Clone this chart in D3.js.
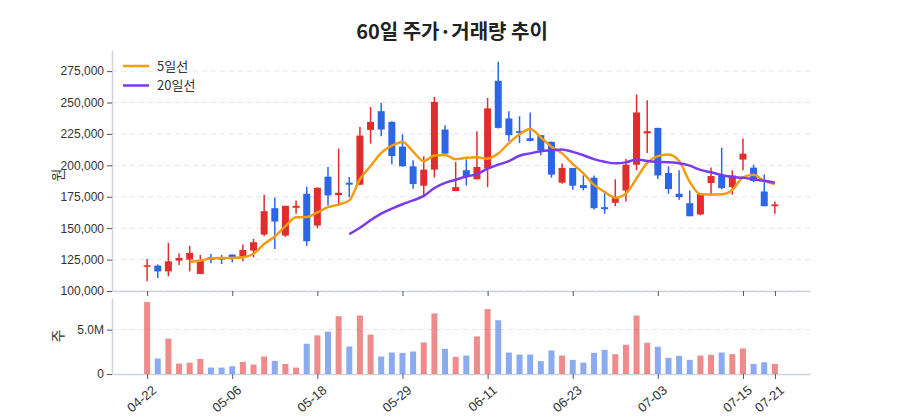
<!DOCTYPE html>
<html>
<head>
<meta charset="utf-8">
<script src="https://cdn.jsdelivr.net/npm/d3@7"></script>
<style>
  body { margin: 0; background: #fff; }
  svg { font-family: "Noto Sans CJK KR", "Noto Sans", sans-serif; }
</style>
</head>
<body>
<svg id="chart" width="900" height="420"></svg>
<script>
const dates = ['04-22','04-23','04-25','04-26','04-29','04-30','05-02','05-03','05-06','05-07',
  '05-09','05-10','05-13','05-14','05-16','05-17','05-18','05-20','05-21','05-22',
  '05-23','05-24','05-27','05-28','05-29','05-31','06-01','06-03','06-04','06-05',
  '06-07','06-10','06-11','06-12','06-13','06-14','06-17','06-18','06-20','06-21',
  '06-23','06-24','06-25','06-26','06-27','06-28','07-01','07-02','07-03','07-04',
  '07-05','07-07','07-08','07-09','07-10','07-11','07-15','07-16','07-18','07-21'];
const tickDates = ['04-22','05-06','05-18','05-29','06-11','06-23','07-03','07-15','07-21'];

const opens = [120000,120200,115600,124200,125000,113600,126800,126800,129000,126800,
  132200,144900,165900,144100,166200,177400,152100,191000,176300,186200,
  184600,228200,243100,234600,214900,199200,183800,196600,228500,179500,
  196100,188900,197400,267300,237300,227200,221600,224000,218700,186200,
  197900,184300,190200,166700,170200,180000,200500,225400,229800,193900,
  177400,169900,160900,185900,192000,182700,204600,198200,179200,167500];
const highs = [125500,121000,138300,130000,135900,128700,129500,128700,129000,137000,
  141500,176600,174500,167800,172100,183000,182500,198600,213300,190700,
  230600,246500,249800,235000,224700,204000,207200,254500,232000,202700,
  204800,227200,253700,282500,243100,239100,242100,224000,219000,201400,
  198000,192000,192000,177900,188900,205000,256400,251900,230000,199200,
  196100,180000,177500,198200,214100,196100,221400,200500,192800,171300];
const lows = [107700,110400,111700,120700,115600,113400,122000,121500,122800,123600,
  126800,143600,133500,143100,161500,135900,150000,168100,168100,174700,
  184300,217300,223100,200800,199000,181400,174700,190200,209000,179500,
  184000,188900,182700,229300,219200,217800,219200,208000,190200,185400,
  180600,180000,164900,161500,167500,171300,196100,209800,189100,177400,
  172600,159500,160300,176100,180900,176600,196100,186700,167500,161500];
const closes = [120500,115600,123600,126300,130300,124700,124700,125000,126800,132700,
  138800,163500,155300,167800,167800,139600,182200,176100,178200,184600,
  223700,234600,228500,207400,199200,185100,196600,250500,209300,182700,
  190700,198700,245300,229800,224000,225800,219400,212000,192600,197900,
  183800,181900,165900,165100,174700,200500,242100,227200,192000,181100,
  174700,159500,177400,191500,181900,192000,209300,187500,167500,168900];
const volumes = [8100000,1740000,3980000,1170000,1280000,1700000,720000,720000,870000,1360000,
  1060000,1970000,1480000,1130000,720000,3410000,4350000,4770000,6510000,3100000,
  6590000,4430000,1970000,2420000,2380000,2530000,3560000,6820000,2840000,1930000,
  2080000,4240000,7310000,6060000,2420000,2190000,2190000,1440000,2650000,2080000,
  1590000,1280000,2380000,2720000,2230000,3290000,6590000,3520000,3070000,1820000,
  2050000,1590000,2080000,2160000,2420000,2230000,2880000,1140000,1320000,1140000];
const ma5 = [null,null,null,null,123260,124100,125920,126200,126300,126780,
  129600,137360,143420,151620,158640,158800,162540,166700,168780,172140,
  188960,199440,209920,215760,218680,210960,203360,207760,208140,204840,
  205960,206380,205340,209440,217700,224720,228860,222200,214760,209540,
  201140,193640,184420,178920,174280,177620,189660,201920,207300,208580,
  203420,186900,176940,176840,177000,180460,190420,192440,187640,185040];
const ma20 = [null,null,null,null,null,null,null,null,null,null,
  null,null,null,null,null,null,null,null,null,145205,
  150365,156315,161560,165615,169060,172080,175675,181950,186075,188575,
  191170,192930,197430,200530,203340,207650,209510,211305,212025,212690,
  210695,208060,204930,202815,201590,202360,204635,203470,202605,202525,
  201725,199765,196370,194455,192350,190660,190155,188930,187675,186225];
const priceTicks = [100000,125000,150000,175000,200000,225000,250000,275000];
const volumeTicks = [0,5000000];

const svg = d3.select('#chart');
const left = 112, right = 810;
const priceTop = 50, priceBottom = 291;
const volTop = 298, volBottom = 374;
const red = '#e02d2d', blue = '#2b66e5';

const x = d3.scalePoint().domain(dates).range([left, right]).padding(3.3);
const y = d3.scaleLinear().domain([100000, 291800]).range([priceBottom, priceTop]);
const yv = d3.scaleLinear().domain([0, 8560000]).range([volBottom, volTop]);

// title
svg.append('text')
  .attr('x', 452).attr('y', 39)
  .attr('text-anchor', 'middle')
  .attr('font-size', 20).attr('font-weight', 700)
  .attr('fill', '#222')
  .text('60일 주가·거래량 추이');

// grid lines
svg.append('g').selectAll('line').data(priceTicks).join('line')
  .attr('x1', left).attr('x2', right)
  .attr('y1', d => y(d)).attr('y2', d => y(d))
  .attr('stroke', '#e3e5ea').attr('stroke-dasharray', '5,4');
svg.append('g').selectAll('line').data(volumeTicks.slice(1)).join('line')
  .attr('x1', left).attr('x2', right)
  .attr('y1', d => yv(d)).attr('y2', d => yv(d))
  .attr('stroke', '#e3e5ea').attr('stroke-dasharray', '5,4');

// axes
const styleAxis = g => {
  g.select('.domain').attr('stroke', '#cfd3dc').attr('stroke-width', 1.5);
  g.selectAll('.tick line').attr('stroke', '#555');
  g.selectAll('.tick text').attr('fill', '#333').attr('font-size', 12);
};

svg.append('g')
  .attr('transform', `translate(${left},0)`)
  .call(d3.axisLeft(y).tickValues(priceTicks).tickFormat(d3.format(',')).tickSize(5).tickSizeOuter(0))
  .call(styleAxis);

svg.append('g')
  .attr('transform', `translate(${left},0)`)
  .call(d3.axisLeft(yv).tickValues(volumeTicks)
    .tickFormat(d => d === 0 ? '0' : d3.format('.1f')(d / 1e6) + 'M').tickSize(5).tickSizeOuter(0))
  .call(styleAxis);

svg.append('g')
  .attr('transform', `translate(0,${priceBottom})`)
  .call(d3.axisBottom(x).tickValues(tickDates).tickFormat('').tickSize(5).tickSizeOuter(0))
  .call(styleAxis);

svg.append('g')
  .attr('transform', `translate(0,${volBottom})`)
  .call(d3.axisBottom(x).tickValues(tickDates).tickSize(5).tickSizeOuter(0))
  .call(styleAxis)
  .selectAll('.tick text')
  .attr('font-size', 13)
  .attr('text-anchor', 'end')
  .attr('transform', 'rotate(-40)')
  .attr('dx', '-0.3em').attr('dy', '0.9em');

// axis titles
svg.append('text')
  .attr('transform', 'translate(63,175) rotate(-90)')
  .attr('text-anchor', 'middle').attr('font-size', 14).attr('fill', '#333')
  .text('원');
svg.append('text')
  .attr('transform', 'translate(63,336) rotate(-90)')
  .attr('text-anchor', 'middle').attr('font-size', 14).attr('fill', '#333')
  .text('주');

// candles
const candles = svg.append('g').selectAll('g').data(dates).join('g');
candles.append('line')
  .attr('x1', d => x(d)).attr('x2', d => x(d))
  .attr('y1', (d, i) => y(highs[i])).attr('y2', (d, i) => y(lows[i]))
  .attr('stroke', (d, i) => closes[i] >= opens[i] ? red : blue)
  .attr('stroke-width', 1.5);
candles.append('rect')
  .attr('x', d => x(d) - 3.5)
  .attr('width', 7)
  .attr('y', (d, i) => y(Math.max(opens[i], closes[i])))
  .attr('height', (d, i) => Math.max(1.5, Math.abs(y(opens[i]) - y(closes[i]))))
  .attr('fill', (d, i) => closes[i] >= opens[i] ? red : blue);

// volume bars
svg.append('g').selectAll('rect').data(dates).join('rect')
  .attr('x', d => x(d) - 3)
  .attr('width', 6)
  .attr('y', (d, i) => yv(volumes[i]))
  .attr('height', (d, i) => yv(0) - yv(volumes[i]))
  .attr('fill', (d, i) => closes[i] >= opens[i] ? red : blue)
  .attr('opacity', 0.55);

// moving averages
const maLine = arr => d3.line()
  .defined((d, i) => arr[i] !== null)
  .x(d => x(d))
  .y((d, i) => y(arr[i]))
  .curve(d3.curveMonotoneX);

svg.append('path')
  .datum(dates)
  .attr('fill', 'none')
  .attr('stroke', '#f39c12')
  .attr('stroke-width', 2.5)
  .attr('d', maLine(ma5));

svg.append('path')
  .datum(dates)
  .attr('fill', 'none')
  .attr('stroke', '#7c3aed')
  .attr('stroke-width', 2.5)
  .attr('d', maLine(ma20));

// legend
const legend = [{ label: '5일선', color: '#f39c12' }, { label: '20일선', color: '#7c3aed' }];
const lg = svg.append('g').selectAll('g').data(legend).join('g')
  .attr('transform', (d, i) => `translate(123,${66 + i * 19.5})`);
lg.append('line')
  .attr('x1', 0).attr('x2', 26)
  .attr('stroke', d => d.color).attr('stroke-width', 2.5);
lg.append('text')
  .attr('x', 34).attr('dy', '0.35em')
  .attr('font-size', 13).attr('fill', '#333')
  .text(d => d.label);
</script>
</body>
</html>
